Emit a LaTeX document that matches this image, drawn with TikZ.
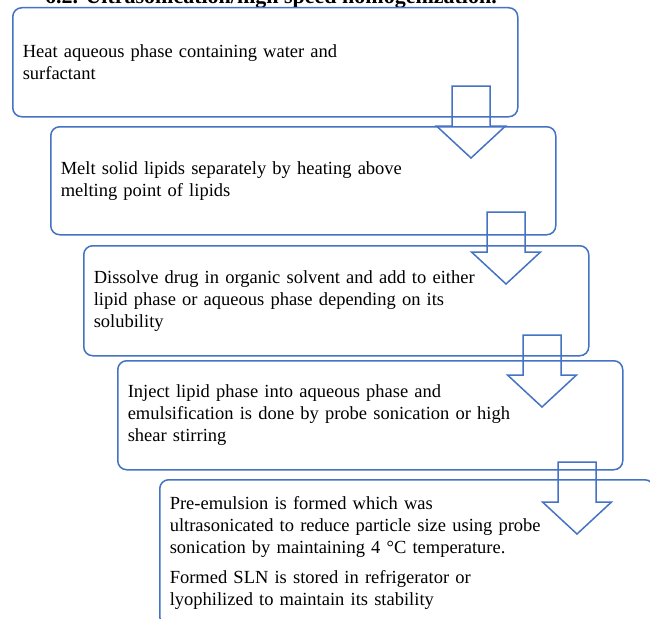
\documentclass[tikz,border=0pt]{standalone}
\usepackage{fontspec}
\setmainfont{Liberation Serif}
\definecolor{bblue}{HTML}{4472C4}
\tikzset{
  stepbox/.style={draw=bblue, line width=1.5pt, rounded corners=9pt, text width=485pt,
    inner xsep=10pt, inner ysep=0pt, align=left, anchor=north west,
    font=\fontsize{18.5}{22}\selectfont},
  barrow/.style={draw=bblue, line width=1.5pt, line join=miter},
  blockarrow/.pic={\draw[barrow] (-19,0) -- (19,0) -- (19,40) -- (34.5,40) -- (0,72) -- (-34.5,40) -- (-19,40) -- cycle;},
  titlestyle/.style={font=\bfseries\fontsize{22}{26}\selectfont, anchor=base west, inner sep=0pt}
}
\begin{document}
\begin{tikzpicture}[x=1pt,y=-1pt]
\useasboundingbox (0,0) rectangle (650,618);
\clip (0,0) rectangle (650,618);
\node[titlestyle] (title) at (45,4) {6.2. Ultrasonication/high speed homogenization.};
\node[stepbox, minimum height=109pt] (b1) at (12,7) {Heat aqueous phase containing water and\\surfactant};
\node[stepbox, minimum height=108pt] (b2) at (50,126) {Melt solid lipids separately by heating above\\melting point of lipids};
\node[stepbox, minimum height=110pt] (b3) at (83,245) {Dissolve drug in organic solvent and add to either\\lipid phase or aqueous phase depending on its\\solubility};
\node[stepbox, minimum height=109pt] (b4) at (117,360) {Inject lipid phase into aqueous phase and\\emulsification is done by probe sonication or high\\shear stirring};
\node[stepbox, text width=474pt, minimum height=146pt] (b5) at (159,479) {Pre-emulsion is formed which was\\ultrasonicated to reduce particle size using probe\\sonication by maintaining 4 °C temperature.\\[8pt]Formed SLN is stored in refrigerator or\\lyophilized to maintain its stability};
\coordinate (a1) at (471,86);
\coordinate (a2) at (506,212);
\coordinate (a3) at (542,335);
\coordinate (a4) at (577,462);
\pic at (a1) {blockarrow};
\pic at (a2) {blockarrow};
\pic at (a3) {blockarrow};
\pic at (a4) {blockarrow};
\end{tikzpicture}
\end{document}
